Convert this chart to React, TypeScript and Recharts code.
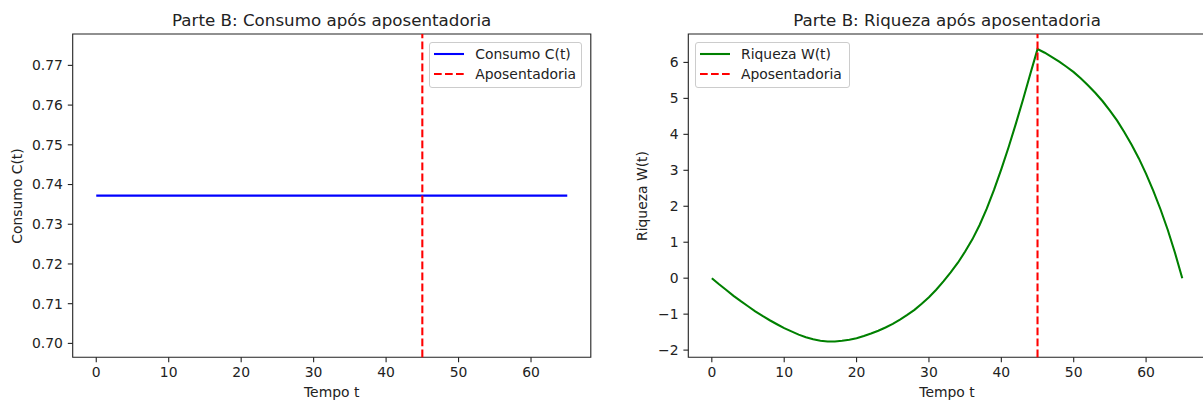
import {
  Line,
  LineChart,
  ReferenceArea,
  ReferenceLine,
  XAxis,
  YAxis,
} from "recharts";

// tempo (anos) e riqueza
const TEMPO = [
  0, 1, 2, 3, 4, 5, 6, 7, 8, 9, 10, 11, 12, 13, 14, 15, 16, 17, 18, 19, 20, 21,
  22, 23, 24, 25, 26, 27, 28, 29, 30, 31, 32, 33, 34, 35, 36, 37, 38, 39, 40,
  41, 42, 43, 44, 45, 46, 47, 48, 49, 50, 51, 52, 53, 54, 55, 56, 57, 58, 59,
  60, 61, 62, 63, 64, 65,
];
const RIQUEZA = [
  0, -0.17, -0.33, -0.49, -0.64, -0.78, -0.92, -1.05, -1.17, -1.28, -1.39,
  -1.48, -1.57, -1.64, -1.7, -1.74, -1.76, -1.76, -1.74, -1.71, -1.67, -1.61,
  -1.54, -1.46, -1.37, -1.27, -1.15, -1.02, -0.88, -0.71, -0.53, -0.32, -0.09,
  0.16, 0.43, 0.74, 1.08, 1.48, 1.94, 2.46, 3.03, 3.64, 4.29, 4.97, 5.68, 6.37,
  6.27, 6.15, 6.02, 5.88, 5.73, 5.55, 5.36, 5.15, 4.92, 4.66, 4.38, 4.06, 3.71,
  3.33, 2.9, 2.43, 1.91, 1.34, 0.7, 0,
];

// consumo constante
const CONSUMO_T = [0, 65];
const CONSUMO = [0.7372, 0.7372];

const APOSENTADORIA_T = 45;

const X_TICKS = [0, 10, 20, 30, 40, 50, 60];
const C_TICKS = [0.7, 0.71, 0.72, 0.73, 0.74, 0.75, 0.76, 0.77];
const W_TICKS = [-2, -1, 0, 1, 2, 3, 4, 5, 6];

const X_DOMAIN: [number, number] = [-3.25, 68.25];
const C_DOMAIN: [number, number] = [0.6965, 0.7779];
const W_DOMAIN: [number, number] = [-2.2, 6.79];

const consumoData = CONSUMO_T.map((t, i) => ({ t, c: CONSUMO[i] }));
const riquezaData = TEMPO.map((t, i) => ({ t, w: RIQUEZA[i] }));

const FONT = '"DejaVu Sans", sans-serif';
const FS = 13.9;
const INK = "#222";
const tickStyle = { fill: INK, fontSize: FS, fontFamily: FONT };

const fmtMinus = (v: number) => (v < 0 ? "\u2212" + Math.abs(v) : String(v));

type LegendItem = { label: string; color: string; dashed?: boolean };

function LegendBox({
  left,
  top,
  width,
  items,
}: {
  left: number;
  top: number;
  width: number;
  items: LegendItem[];
}) {
  return (
    <div
      style={{
        position: "absolute",
        left,
        top,
        width,
        height: 46.6,
        boxSizing: "border-box",
        border: "1px solid #cccccc",
        borderRadius: 3,
        background: "rgba(255,255,255,0.8)",
      }}
    >
      {items.map((it, i) => (
        <div
          key={it.label}
          style={{
            position: "absolute",
            left: 0,
            top: 11.6 + i * 20 - 8,
            height: 16,
            display: "flex",
            alignItems: "center",
          }}
        >
          <svg width={40} height={16} style={{ display: "block" }}>
            <line
              x1={4}
              x2={34}
              y1={8}
              y2={8}
              stroke={it.color}
              strokeWidth={2.08}
              strokeDasharray={it.dashed ? "7.7 3.3" : undefined}
            />
          </svg>
          <span
            style={{
              marginLeft: 5,
              fontSize: FS,
              fontFamily: FONT,
              color: INK,
              lineHeight: "16px",
              whiteSpace: "nowrap",
            }}
          >
            {it.label}
          </span>
        </div>
      ))}
    </div>
  );
}

function Txt({
  x,
  y,
  size,
  rotate,
  children,
}: {
  x: number;
  y: number;
  size: number;
  rotate?: boolean;
  children: string;
}) {
  return (
    <div
      style={{
        position: "absolute",
        left: x,
        top: y,
        transform: `translate(-50%, -50%)${rotate ? " rotate(-90deg)" : ""}`,
        fontSize: size,
        fontFamily: FONT,
        color: INK,
        lineHeight: 1,
        whiteSpace: "nowrap",
      }}
    >
      {children}
    </div>
  );
}

export default function App() {
  return (
    <div
      style={{
        position: "absolute",
        left: 0,
        top: 0,
        width: 1203,
        height: 403,
        overflow: "hidden",
        background: "#fff",
      }}
    >
      {/* painel esquerdo: consumo */}
      <div style={{ position: "absolute", left: 0, top: 0 }}>
        <LineChart
          width={600}
          height={403}
          data={consumoData}
          margin={{ top: 34, right: 9.2, bottom: 0, left: 0 }}
        >
          <XAxis
            dataKey="t"
            type="number"
            domain={X_DOMAIN}
            ticks={X_TICKS}
            interval={0}
            allowDataOverflow
            height={45.7}
            axisLine={false}
            tickSize={4.9}
            tickMargin={4.9}
            tickLine={{ stroke: INK, strokeWidth: 1.1 }}
            tick={tickStyle}
          />
          <YAxis
            type="number"
            domain={C_DOMAIN}
            ticks={C_TICKS}
            interval={0}
            allowDataOverflow
            width={72.7}
            axisLine={false}
            tickSize={4.9}
            tickMargin={4.9}
            tickLine={{ stroke: INK, strokeWidth: 1.1 }}
            tick={tickStyle}
            tickFormatter={(v: number) => v.toFixed(2)}
          />
          <Line
            dataKey="c"
            type="linear"
            stroke="#0000ff"
            strokeWidth={2.08}
            dot={false}
            isAnimationActive={false}
          />
          <ReferenceLine
            x={APOSENTADORIA_T}
            stroke="#ff0000"
            strokeWidth={2.08}
            strokeDasharray="7.7 3.3"
          />
          <ReferenceArea
            x1={X_DOMAIN[0]}
            x2={X_DOMAIN[1]}
            y1={C_DOMAIN[0]}
            y2={C_DOMAIN[1]}
            fill="none"
            stroke={INK}
            strokeWidth={1.1}
            ifOverflow="visible"
          />
        </LineChart>
      </div>

      {/* painel direito: riqueza */}
      <div style={{ position: "absolute", left: 600, top: 0 }}>
        <LineChart
          width={610}
          height={403}
          data={riquezaData}
          margin={{ top: 34, right: 4.2, bottom: 0, left: 0 }}
        >
          <XAxis
            dataKey="t"
            type="number"
            domain={X_DOMAIN}
            ticks={X_TICKS}
            interval={0}
            allowDataOverflow
            height={45.7}
            axisLine={false}
            tickSize={4.9}
            tickMargin={4.9}
            tickLine={{ stroke: INK, strokeWidth: 1.1 }}
            tick={tickStyle}
          />
          <YAxis
            type="number"
            domain={W_DOMAIN}
            ticks={W_TICKS}
            interval={0}
            allowDataOverflow
            width={88.3}
            axisLine={false}
            tickSize={4.9}
            tickMargin={4.9}
            tickLine={{ stroke: INK, strokeWidth: 1.1 }}
            tick={tickStyle}
            tickFormatter={fmtMinus}
          />
          <Line
            dataKey="w"
            type="linear"
            stroke="#008000"
            strokeWidth={2.08}
            dot={false}
            isAnimationActive={false}
          />
          <ReferenceLine
            x={APOSENTADORIA_T}
            stroke="#ff0000"
            strokeWidth={2.08}
            strokeDasharray="7.7 3.3"
          />
          <ReferenceArea
            x1={X_DOMAIN[0]}
            x2={X_DOMAIN[1]}
            y1={W_DOMAIN[0]}
            y2={W_DOMAIN[1]}
            fill="none"
            stroke={INK}
            strokeWidth={1.1}
            ifOverflow="visible"
          />
        </LineChart>
      </div>

      <Txt x={331.7} y={19.6} size={16.7}>
        Parte B: Consumo após aposentadoria
      </Txt>
      <Txt x={947} y={19.6} size={16.7}>
        Parte B: Riqueza após aposentadoria
      </Txt>
      <Txt x={331.7} y={392.7} size={FS}>
        Tempo t
      </Txt>
      <Txt x={947} y={392.7} size={FS}>
        Tempo t
      </Txt>
      <Txt x={18.3} y={195.7} size={FS} rotate>
        Consumo C(t)
      </Txt>
      <Txt x={642.7} y={195.7} size={FS} rotate>
        Riqueza W(t)
      </Txt>

      <LegendBox
        left={429.3}
        top={41.7}
        width={153}
        items={[
          { label: "Consumo C(t)", color: "#0000ff" },
          { label: "Aposentadoria", color: "#ff0000", dashed: true },
        ]}
      />
      <LegendBox
        left={695}
        top={41.7}
        width={155}
        items={[
          { label: "Riqueza W(t)", color: "#008000" },
          { label: "Aposentadoria", color: "#ff0000", dashed: true },
        ]}
      />
    </div>
  );
}
